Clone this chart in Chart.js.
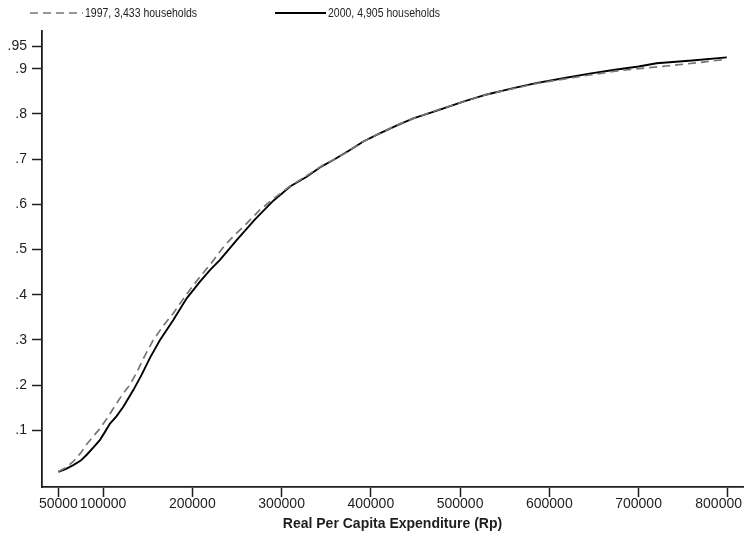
<!DOCTYPE html>
<html>
<head>
<meta charset="utf-8">
<script src="https://cdn.jsdelivr.net/npm/chart.js@4/dist/chart.umd.min.js"></script>
<style>
  html, body { margin: 0; padding: 0; background: #fff; }
  #chart { display: block; }
</style>
</head>
<body>
<canvas id="chart" width="746" height="537"></canvas>
<script>
// cumulative share of households by real per capita expenditure (Rp)
const exp1997 = [50000, 58000, 66700, 75000, 81700, 90000, 96600, 105000, 115300, 122000,
  130200, 137700, 146000, 156300, 167000, 178700, 189000, 199300, 210000, 221700,
  236600, 248000, 259100, 275900, 290800, 310000, 328200, 345000, 358000, 376700,
  391600, 410000, 430000, 447600, 475000, 503600, 530000, 559700, 585000, 615700,
  645000, 671700, 694100, 731500, 765000, 798800];
const share1997 = [0.009, 0.017, 0.031, 0.050, 0.069, 0.089, 0.104, 0.128, 0.160, 0.180,
  0.201, 0.228, 0.262, 0.300, 0.330, 0.359, 0.388, 0.416, 0.443, 0.471,
  0.510, 0.533, 0.554, 0.588, 0.612, 0.641, 0.663, 0.685, 0.698, 0.720,
  0.739, 0.757, 0.776, 0.790, 0.809, 0.827, 0.843, 0.856, 0.867, 0.877,
  0.886, 0.894, 0.899, 0.906, 0.913, 0.921];

const exp2000 = [50000, 58000, 66700, 75000, 81700, 90000, 96600, 102000, 107800, 115000,
  122700, 133900, 143000, 153000, 163800, 170000, 178700, 193700, 208600, 220000,
  231000, 249700, 270000, 290800, 310000, 328200, 345000, 358000, 376700, 391600,
  410000, 430000, 447600, 475000, 503600, 530000, 559700, 585000, 615700, 645000,
  671700, 700000, 720300, 760000, 798800];
const share2000 = [0.008, 0.014, 0.023, 0.033, 0.046, 0.064, 0.079, 0.096, 0.115, 0.131,
  0.152, 0.189, 0.222, 0.262, 0.300, 0.318, 0.344, 0.392, 0.429, 0.455,
  0.477, 0.521, 0.566, 0.608, 0.640, 0.661, 0.684, 0.698, 0.720, 0.739,
  0.757, 0.775, 0.790, 0.808, 0.827, 0.843, 0.857, 0.868, 0.879, 0.889,
  0.897, 0.905, 0.912, 0.918, 0.925];

const xTicks = [50000, 100000, 200000, 300000, 400000, 500000, 600000, 700000, 800000];
const yTicks = [0.1, 0.2, 0.3, 0.4, 0.5, 0.6, 0.7, 0.8, 0.9, 0.95];

const ink = "#1e1e1e";
const sans = '"Liberation Sans", Arial, Helvetica, sans-serif';

const toPoints = (xs, ys) => xs.map((x, i) => ({ x: x, y: ys[i] }));

// legend drawn across the top, one sample line + label per series
// (label text squeezed horizontally to look like a narrow face)
const topLegend = {
  id: "topLegend",
  afterDraw(chart) {
    const ctx = chart.ctx;
    const slots = [{ x0: 30, x1: 83 }, { x0: 275, x1: 326 }];
    const y = 13;
    ctx.save();
    chart.data.datasets.forEach((ds, i) => {
      const s = slots[i];
      ctx.beginPath();
      ctx.setLineDash(ds.borderDash || []);
      ctx.strokeStyle = ds.borderColor;
      ctx.lineWidth = ds.borderWidth;
      ctx.moveTo(s.x0, y);
      ctx.lineTo(s.x1, y);
      ctx.stroke();
      ctx.setLineDash([]);

      ctx.save();
      ctx.translate(s.x1 + 2, y + 0.5);
      ctx.scale(0.84, 1);
      ctx.fillStyle = ink;
      ctx.font = "12.5px " + sans;
      ctx.textBaseline = "middle";
      ctx.textAlign = "left";
      ctx.fillText(ds.label, 0, 0);
      ctx.restore();
    });
    ctx.restore();
  }
};

// x tick labels, kept inside the canvas at the right edge
const xLabels = {
  id: "xLabels",
  afterDraw(chart) {
    const ctx = chart.ctx;
    const scale = chart.scales.x;
    ctx.save();
    ctx.font = "14px " + sans;
    ctx.fillStyle = ink;
    ctx.textBaseline = "middle";
    ctx.textAlign = "center";
    scale.ticks.forEach(t => {
      const label = String(t.value);
      const w = ctx.measureText(label).width;
      let px = scale.getPixelForValue(t.value);
      px = Math.min(px, chart.width - 4 - w / 2);
      ctx.fillText(label, px, scale.top + 17);
    });
    ctx.restore();
  }
};

new Chart(document.getElementById("chart"), {
  type: "line",
  data: {
    datasets: [
      {
        label: "1997, 3,433 households",
        data: toPoints(exp1997, share1997),
        borderColor: "#767676",
        borderWidth: 1.7,
        borderDash: [8, 5],
        pointRadius: 0,
        tension: 0,
        fill: false
      },
      {
        label: "2000, 4,905 households",
        data: toPoints(exp2000, share2000),
        borderColor: "#000000",
        borderWidth: 1.9,
        pointRadius: 0,
        tension: 0,
        fill: false
      }
    ]
  },
  options: {
    responsive: false,
    animation: false,
    events: [],
    layout: { padding: { top: 31, right: 3, left: 0, bottom: 0 } },
    plugins: {
      legend: { display: false },
      tooltip: { enabled: false }
    },
    scales: {
      x: {
        type: "linear",
        min: 31600,
        max: 817000,
        afterBuildTicks: scale => { scale.ticks = xTicks.map(v => ({ value: v })); },
        afterFit: scale => { scale.height = 50; },
        ticks: { display: false },
        grid: {
          drawOnChartArea: false,
          drawTicks: true,
          tickLength: 10,
          tickColor: ink,
          tickWidth: 1.5
        },
        border: { display: true, color: ink, width: 1.8 },
        title: {
          display: true,
          text: "Real Per Capita Expenditure (Rp)",
          color: ink,
          font: { family: sans, size: 14, weight: "bold" },
          padding: { top: 0, bottom: 4.5 }
        }
      },
      y: {
        type: "linear",
        min: -0.0254,
        max: 0.9834,
        afterBuildTicks: scale => { scale.ticks = yTicks.map(v => ({ value: v })); },
        afterFit: scale => { scale.width = 42; },
        ticks: {
          color: ink,
          font: { family: sans, size: 14 },
          padding: 5,
          callback: v => String(v).replace(/^0/, "")
        },
        grid: {
          drawOnChartArea: false,
          drawTicks: true,
          tickLength: 10,
          tickColor: ink,
          tickWidth: 1.5
        },
        border: { display: true, color: ink, width: 1.8 }
      }
    }
  },
  plugins: [topLegend, xLabels]
});
</script>
</body>
</html>
